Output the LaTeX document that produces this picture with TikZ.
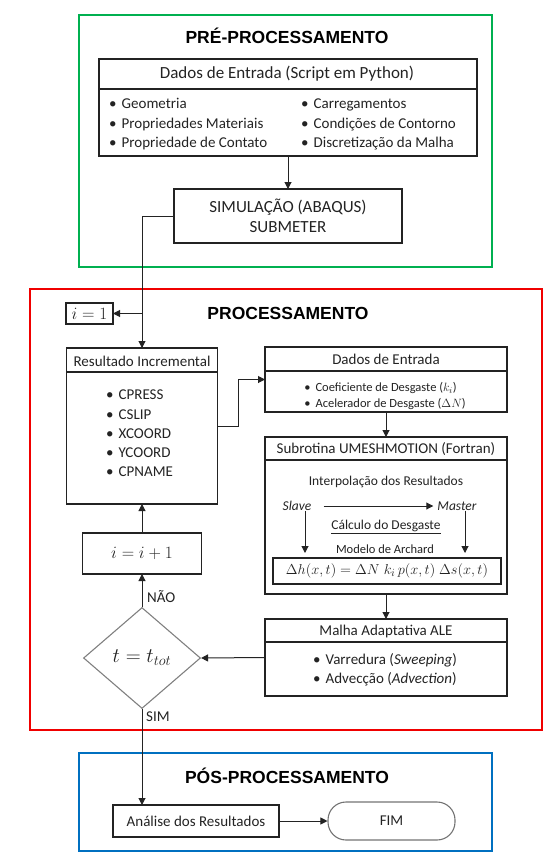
\documentclass[tikz,border=0pt]{standalone}
\usepackage{fontspec}
\setmainfont{Carlito}
\newfontfamily\titlefont{Liberation Sans}
\usetikzlibrary{shapes.geometric,arrows.meta,calc}
\definecolor{frgreen}{RGB}{0,176,80}
\definecolor{frred}{RGB}{240,0,0}
\definecolor{frblue}{RGB}{0,112,192}
\definecolor{ink}{RGB}{35,35,35}
\newcommand\myfs[2]{\fontsize{#1}{#2}\selectfont}
\begin{document}
\begin{tikzpicture}[x=1pt,y=-1pt,
  box/.style={draw=ink, line width=1.2pt, inner sep=0pt, outer sep=0pt, text=ink},
  frame/.style={line width=2pt, inner sep=0pt},
  arr/.style={draw=ink, line width=1pt, -{Triangle[length=7pt,width=7pt]}},
  conn/.style={draw=ink, line width=1pt},
  hline/.style={draw=ink, line width=1.2pt},
  ttl/.style={font=\titlefont\bfseries\myfs{17.5}{20}, text=black},
  txt/.style={text=ink, inner sep=0pt, font=\myfs{15}{18}},
  lst/.style={text=ink, inner sep=0pt, align=left},
]
\useasboundingbox (0,0) rectangle (556,861);

% frames
\node[frame, draw=frgreen, minimum width=413pt, minimum height=252pt] (pre) at (285.5,141) {};
\node[frame, draw=frred, minimum width=512pt, minimum height=441pt] (proc) at (286,509.5) {};
\node[frame, draw=frblue, minimum width=413pt, minimum height=98pt] (pos) at (285.5,802) {};

\node[ttl] (tpre) at (287,36) {PRÉ-PROCESSAMENTO};
\node[ttl] (tproc) at (288,313) {PROCESSAMENTO};
\node[ttl] (tpos) at (287,776) {PÓS-PROCESSAMENTO};

% pre-processing
\node[box, minimum width=378pt, minimum height=97pt] (dados) at (288,107.5) {};
\draw[hline] ([yshift=-30pt]dados.north west) -- ([yshift=-30pt]dados.north east);
\node[txt, font=\myfs{17}{20}] (dadosh) at (287,74) {Dados de Entrada (Script em Python)};
\node[lst, anchor=west, font=\myfs{15}{19.5}] (col1) at (109,124.5)
  {•\hspace{5pt}Geometria\\ •\hspace{5pt}Propriedades Materiais\\ •\hspace{5pt}Propriedade de Contato};
\node[lst, anchor=west, font=\myfs{15}{19.5}] (col2) at (301,124.5)
  {•\hspace{5pt}Carregamentos\\ •\hspace{5pt}Condições de Contorno\\ •\hspace{5pt}Discretização da Malha};

\node[box, minimum width=228pt, minimum height=54pt, align=center, font=\myfs{17}{20}] (sim) at (288,216)
  {SIMULAÇÃO (ABAQUS)\\ SUBMETER};
\draw[arr] (dados.south -| sim.north) -- (sim.north);

% processing
\node[box, minimum width=47pt, minimum height=21pt, font=\myfs{17}{18}] (i1) at (89.5,313.5) {$i=1$};
\node[box, minimum width=151pt, minimum height=156pt] (res) at (142,426) {};
\draw[hline] ([yshift=-24pt]res.north west) -- ([yshift=-24pt]res.north east);
\node[txt] (resh) at (142,361) {Resultado Incremental};
\node[lst, anchor=west, font=\myfs{15}{19.25}] (reslist) at (106,433.5)
  {•\hspace{5pt}CPRESS\\ •\hspace{5pt}CSLIP\\ •\hspace{5pt}XCOORD\\ •\hspace{5pt}YCOORD\\ •\hspace{5pt}CPNAME};

\draw[conn] (sim.west) -| (res.north);
\draw[arr] (sim.west -| res.north) -- (res.north);
\draw[arr] (res.north |- i1.east) -- (i1.east);

\node[box, minimum width=242pt, minimum height=65pt] (din) at (386,379.5) {};
\draw[hline] ([yshift=-24pt]din.north west) -- ([yshift=-24pt]din.north east);
\node[txt] (dinh) at (386,359) {Dados de Entrada};
\node[lst, font=\myfs{12.5}{16}] (dinlist) at (385,396)
  {•\hspace{5pt}Coeficiente de Desgaste ($k_i$)\\ •\hspace{5pt}Acelerador de Desgaste ($\Delta N$)};
\draw[arr] (res.east) -- ++(21,0) |- (din.west);

\node[box, minimum width=242pt, minimum height=157pt] (sub) at (386,515.5) {};
\draw[hline] ([yshift=-23pt]sub.north west) -- ([yshift=-23pt]sub.north east);
\node[txt] (subh) at (386,449) {Subrotina UMESHMOTION (Fortran)};
\draw[arr] (din.south) -- (sub.north);
\node[txt, font=\myfs{13.5}{16}] (interp) at (386,482) {Interpolação dos Resultados};
\node[txt, font=\myfs{13.5}{16}\itshape] (slave) at (297,506) {Slave};
\node[txt, font=\myfs{13.5}{16}\itshape] (master) at (457,506) {Master};
\draw[arr] ([xshift=12pt]slave.east) -- ([xshift=-4pt]master.west);
\node[txt, font=\myfs{13.5}{16}] (calc) at (386,527) {\underline{Cálculo do Desgaste}};
\node[txt, font=\myfs{12.5}{15}] (arch) at (385,549) {Modelo de Archard};
\node[box, minimum width=228pt, minimum height=26pt, font=\myfs{15.5}{18}] (form) at (387,571)
  {$\Delta h(x,t) = \Delta N\; k_i\, p(x,t)\;\Delta s(x,t)$};
\coordinate (sl) at (305,553);
\coordinate (ms) at (465,553);
\draw[arr] (slave.south -| sl) -- (sl);
\draw[arr] (master.south -| ms) -- (ms);

\node[box, minimum width=242pt, minimum height=77pt] (mal) at (386,657.5) {};
\draw[hline] ([yshift=-23pt]mal.north west) -- ([yshift=-23pt]mal.north east);
\node[txt] (malh) at (386,631) {Malha Adaptativa ALE};
\node[lst, font=\myfs{15}{19}] (mallist) at (385,669.5)
  {•\hspace{5pt}Varredura (\textit{Sweeping})\\ •\hspace{5pt}Advecção (\textit{Advection})};
\draw[arr] (sub.south) -- (mal.north);

\node[draw=black!50, line width=1.1pt, diamond, minimum width=117pt, minimum height=101pt, inner sep=0pt,
  text=ink, font=\myfs{22}{24}] (dia) at (142,658) {$t=t_{tot}$};
\draw[arr] (mal.west) -- (dia.east);

\node[box, minimum width=119pt, minimum height=41pt, font=\myfs{17}{20}] (inc) at (142,553.5) {$i=i+1$};
\draw[arr] (dia.north) -- (inc.south);
\draw[arr] (inc.north) -- (res.south);
\node[txt, anchor=west] (nao) at (147,597) {NÃO};
\node[txt, anchor=west] (simlbl) at (146,717) {SIM};

% post-processing
\node[box, minimum width=166pt, minimum height=32pt, font=\myfs{15}{18}] (ana) at (196,821) {Análise dos Resultados};
\node[draw=black!55, line width=1.1pt, rounded corners=18pt, minimum width=127pt, minimum height=38pt,
  inner sep=0pt, text=ink, font=\myfs{15}{18}] (fim) at (391.5,821) {FIM};
\draw[arr] (dia.south) -- (dia.south |- ana.north);
\draw[arr] (ana.east) -- (fim.west);
\end{tikzpicture}
\end{document}
